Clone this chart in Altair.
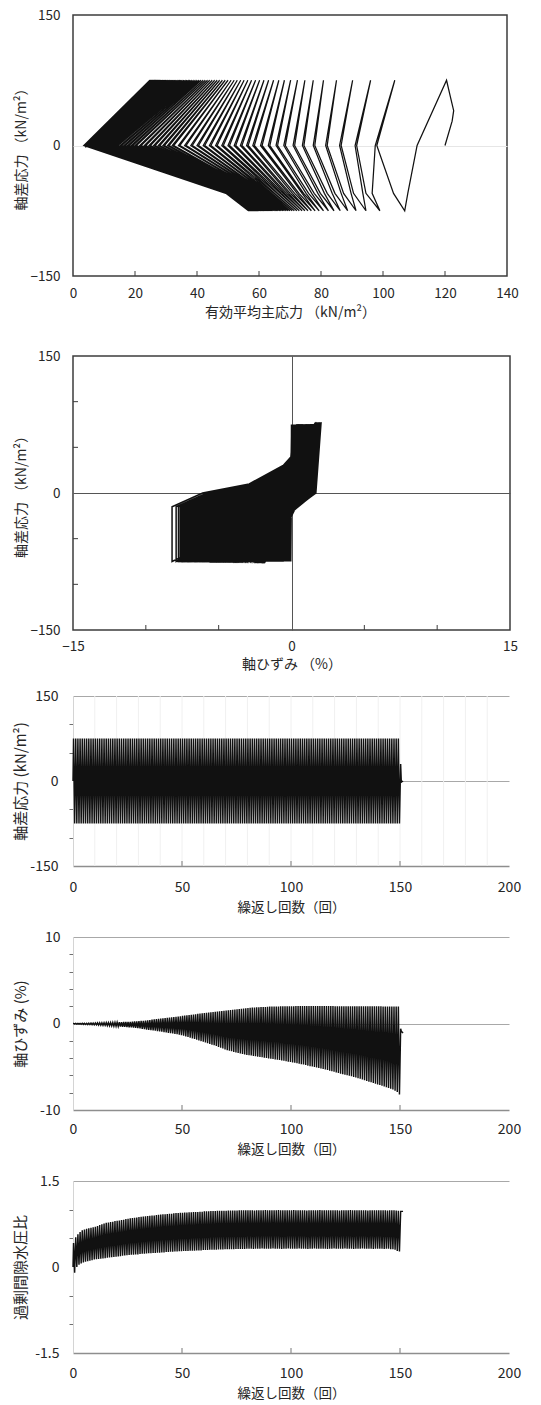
import altair as alt
import pandas as pd

FONT = "Noto Sans CJK JP"
INK = "#111111"
TEXT = "#262626"
FRAME = "#3c3c3c"

# ---------------------------------------------------------------------------
# Cyclic triaxial test record, one entry per loading cycle (cycles 1-150)
# ---------------------------------------------------------------------------
Q_PEAK = 75.0            # deviator stress at the compression peak (kN/m2)
Q_TROUGH = -75.0         # deviator stress at the extension peak (kN/m2)
Q_LOWER = -55.0          # intermediate stress level on the extension side
Q_KNEE = -15.0           # reloading knee on the extension side
Q_RELOAD_LOW = 10.0
Q_RELOAD_HIGH = 30.0

# axial strain (%) at the compression / extension peaks
STRAIN_COMP = [
    0.00, 0.01, 0.01, 0.02, 0.02, 0.03, 0.03, 0.04, 0.05, 0.05,
    0.06, 0.07, 0.08, 0.08, 0.09, 0.10, 0.10, 0.11, 0.12, 0.13,
    0.14, 0.15, 0.16, 0.17, 0.18, 0.19, 0.20, 0.22, 0.24, 0.26,
    0.28, 0.30, 0.32, 0.35, 0.38, 0.41, 0.44, 0.47, 0.50, 0.53,
    0.56, 0.59, 0.62, 0.65, 0.68, 0.71, 0.74, 0.77, 0.80, 0.84,
    0.88, 0.92, 0.96, 0.99, 1.02, 1.05, 1.08, 1.11, 1.14, 1.17,
    1.20, 1.23, 1.26, 1.29, 1.32, 1.35, 1.38, 1.41, 1.44, 1.47,
    1.50, 1.53, 1.56, 1.59, 1.62, 1.65, 1.68, 1.71, 1.74, 1.77,
    1.80, 1.82, 1.84, 1.86, 1.88, 1.89, 1.90, 1.91, 1.92, 1.94,
    1.95, 1.96, 1.96, 1.97, 1.97, 1.98, 1.98, 1.99, 1.99, 2.00,
    2.00, 2.00, 2.01, 2.01, 2.01, 2.01, 2.02, 2.02, 2.02, 2.02,
    2.02, 2.02, 2.02, 2.02, 2.01, 2.01, 2.01, 2.01, 2.01, 2.01,
    2.00, 2.00, 2.00, 2.00, 2.00, 2.00, 2.00, 2.00, 1.99, 1.99,
    1.99, 1.99, 1.99, 1.99, 1.99, 1.98, 1.98, 1.98, 1.98, 1.98,
    1.98, 1.98, 1.97, 1.97, 1.97, 1.97, 1.97, 1.97, 1.97, 1.97,
]
STRAIN_EXT = [
    -0.05, -0.07, -0.08, -0.09, -0.10, -0.11, -0.12, -0.13, -0.14, -0.15,
    -0.16, -0.18, -0.20, -0.21, -0.22, -0.24, -0.26, -0.28, -0.30, -0.32,
    -0.34, -0.36, -0.38, -0.40, -0.42, -0.44, -0.46, -0.49, -0.52, -0.55,
    -0.58, -0.62, -0.66, -0.70, -0.74, -0.77, -0.80, -0.84, -0.88, -0.92,
    -0.96, -1.00, -1.04, -1.08, -1.12, -1.16, -1.20, -1.25, -1.30, -1.36,
    -1.42, -1.49, -1.56, -1.64, -1.72, -1.80, -1.88, -1.96, -2.04, -2.12,
    -2.20, -2.28, -2.36, -2.44, -2.52, -2.61, -2.70, -2.80, -2.90, -3.00,
    -3.08, -3.15, -3.22, -3.29, -3.35, -3.41, -3.47, -3.53, -3.58, -3.63,
    -3.67, -3.71, -3.75, -3.79, -3.83, -3.87, -3.91, -3.95, -3.99, -4.03,
    -4.07, -4.11, -4.15, -4.19, -4.23, -4.27, -4.31, -4.36, -4.41, -4.46,
    -4.50, -4.55, -4.60, -4.65, -4.70, -4.75, -4.81, -4.87, -4.93, -4.98,
    -5.03, -5.08, -5.13, -5.19, -5.25, -5.31, -5.38, -5.45, -5.52, -5.59,
    -5.66, -5.73, -5.80, -5.87, -5.93, -5.99, -6.05, -6.11, -6.18, -6.25,
    -6.32, -6.40, -6.48, -6.56, -6.64, -6.72, -6.80, -6.88, -6.96, -7.04,
    -7.12, -7.20, -7.28, -7.36, -7.45, -7.54, -7.64, -7.76, -7.92, -8.20,
]
# axial strain (%) where the unloading branch crosses q = 0
STRAIN_UNLOAD0 = [
    -0.01, -0.01, 0.00, 0.00, 0.01, 0.01, 0.01, 0.02, 0.03, 0.03,
    0.04, 0.05, 0.05, 0.06, 0.06, 0.07, 0.07, 0.08, 0.09, 0.10,
    0.11, 0.12, 0.13, 0.13, 0.14, 0.15, 0.16, 0.17, 0.19, 0.21,
    0.23, 0.24, 0.26, 0.28, 0.31, 0.33, 0.36, 0.38, 0.41, 0.43,
    0.46, 0.48, 0.51, 0.53, 0.56, 0.58, 0.61, 0.63, 0.66, 0.69,
    0.72, 0.75, 0.79, 0.81, 0.84, 0.86, 0.89, 0.91, 0.94, 0.96,
    0.99, 1.01, 1.04, 1.06, 1.09, 1.11, 1.14, 1.16, 1.19, 1.21,
    1.22, 1.24, 1.27, 1.29, 1.32, 1.34, 1.37, 1.39, 1.42, 1.44,
    1.47, 1.48, 1.50, 1.51, 1.53, 1.54, 1.55, 1.56, 1.57, 1.59,
    1.60, 1.61, 1.61, 1.62, 1.62, 1.63, 1.63, 1.64, 1.64, 1.65,
    1.65, 1.65, 1.66, 1.66, 1.66, 1.66, 1.67, 1.67, 1.67, 1.67,
    1.67, 1.67, 1.67, 1.67, 1.66, 1.66, 1.66, 1.66, 1.66, 1.66,
    1.65, 1.65, 1.65, 1.65, 1.65, 1.65, 1.65, 1.65, 1.64, 1.64,
    1.64, 1.64, 1.64, 1.64, 1.64, 1.63, 1.63, 1.63, 1.63, 1.63,
    1.63, 1.63, 1.62, 1.62, 1.62, 1.62, 1.62, 1.62, 1.62, 1.62,
]
# axial strain (%) on the reloading branch at q = 0, 10 and 30 kN/m2
STRAIN_RELOAD0 = [
    -0.04, -0.06, -0.06, -0.07, -0.08, -0.09, -0.09, -0.10, -0.11, -0.11,
    -0.12, -0.14, -0.15, -0.16, -0.16, -0.17, -0.19, -0.20, -0.22, -0.23,
    -0.24, -0.26, -0.27, -0.28, -0.29, -0.31, -0.32, -0.34, -0.36, -0.38,
    -0.40, -0.42, -0.45, -0.47, -0.49, -0.50, -0.52, -0.54, -0.56, -0.58,
    -0.60, -0.62, -0.64, -0.66, -0.68, -0.70, -0.72, -0.74, -0.76, -0.79,
    -0.82, -0.87, -0.92, -0.97, -1.02, -1.08, -1.14, -1.20, -1.26, -1.32,
    -1.40, -1.46, -1.52, -1.58, -1.64, -1.70, -1.77, -1.84, -1.91, -1.98,
    -2.06, -2.11, -2.16, -2.21, -2.25, -2.29, -2.33, -2.37, -2.40, -2.43,
    -2.46, -2.49, -2.51, -2.54, -2.56, -2.58, -2.60, -2.62, -2.64, -2.66,
    -2.68, -2.70, -2.72, -2.74, -2.76, -2.78, -2.80, -2.82, -2.84, -2.86,
    -2.90, -2.93, -2.96, -2.99, -3.02, -3.06, -3.10, -3.14, -3.18, -3.22,
    -3.27, -3.31, -3.35, -3.40, -3.45, -3.50, -3.55, -3.60, -3.66, -3.72,
    -3.78, -3.84, -3.90, -3.96, -4.01, -4.06, -4.12, -4.17, -4.23, -4.29,
    -4.35, -4.42, -4.49, -4.56, -4.63, -4.70, -4.77, -4.84, -4.91, -4.98,
    -5.06, -5.13, -5.20, -5.28, -5.36, -5.44, -5.53, -5.64, -5.80, -6.10,
]
STRAIN_RELOAD10 = [
    -0.03, -0.05, -0.05, -0.06, -0.07, -0.08, -0.08, -0.09, -0.10, -0.10,
    -0.11, -0.12, -0.13, -0.14, -0.14, -0.15, -0.16, -0.17, -0.18, -0.19,
    -0.20, -0.21, -0.22, -0.23, -0.24, -0.25, -0.26, -0.27, -0.28, -0.29,
    -0.30, -0.31, -0.33, -0.34, -0.35, -0.36, -0.37, -0.38, -0.39, -0.40,
    -0.41, -0.42, -0.43, -0.44, -0.45, -0.46, -0.47, -0.48, -0.49, -0.50,
    -0.52, -0.54, -0.56, -0.58, -0.60, -0.62, -0.65, -0.68, -0.71, -0.74,
    -0.77, -0.80, -0.83, -0.86, -0.89, -0.92, -0.96, -1.00, -1.04, -1.08,
    -1.11, -1.14, -1.16, -1.18, -1.20, -1.22, -1.24, -1.26, -1.27, -1.28,
    -1.29, -1.30, -1.31, -1.32, -1.33, -1.34, -1.35, -1.36, -1.37, -1.38,
    -1.39, -1.40, -1.41, -1.42, -1.43, -1.44, -1.45, -1.46, -1.47, -1.48,
    -1.50, -1.52, -1.54, -1.56, -1.58, -1.60, -1.62, -1.64, -1.66, -1.68,
    -1.70, -1.72, -1.74, -1.76, -1.78, -1.80, -1.82, -1.85, -1.88, -1.91,
    -1.94, -1.97, -2.00, -2.03, -2.05, -2.07, -2.10, -2.12, -2.15, -2.18,
    -2.21, -2.24, -2.27, -2.30, -2.33, -2.36, -2.39, -2.42, -2.45, -2.48,
    -2.51, -2.54, -2.57, -2.60, -2.63, -2.66, -2.70, -2.75, -2.81, -2.90,
]
STRAIN_RELOAD30 = [
    -0.02, -0.03, -0.03, -0.03, -0.04, -0.04, -0.04, -0.05, -0.05, -0.05,
    -0.06, -0.06, -0.06, -0.07, -0.07, -0.07, -0.08, -0.08, -0.08, -0.09,
    -0.09, -0.09, -0.10, -0.10, -0.10, -0.11, -0.11, -0.11, -0.12, -0.12,
    -0.12, -0.13, -0.13, -0.13, -0.14, -0.14, -0.14, -0.15, -0.15, -0.15,
    -0.16, -0.16, -0.16, -0.17, -0.17, -0.17, -0.18, -0.18, -0.18, -0.19,
    -0.19, -0.19, -0.20, -0.20, -0.20, -0.21, -0.21, -0.21, -0.22, -0.22,
    -0.22, -0.23, -0.23, -0.23, -0.24, -0.24, -0.24, -0.25, -0.25, -0.25,
    -0.26, -0.26, -0.26, -0.27, -0.27, -0.27, -0.28, -0.28, -0.28, -0.29,
    -0.29, -0.29, -0.30, -0.30, -0.30, -0.31, -0.31, -0.31, -0.32, -0.32,
    -0.32, -0.33, -0.33, -0.33, -0.34, -0.34, -0.34, -0.35, -0.35, -0.35,
    -0.36, -0.36, -0.36, -0.37, -0.37, -0.37, -0.38, -0.38, -0.38, -0.39,
    -0.39, -0.39, -0.40, -0.40, -0.40, -0.41, -0.41, -0.41, -0.42, -0.42,
    -0.42, -0.43, -0.43, -0.43, -0.44, -0.44, -0.44, -0.45, -0.45, -0.45,
    -0.46, -0.46, -0.46, -0.47, -0.47, -0.47, -0.48, -0.48, -0.48, -0.49,
    -0.49, -0.49, -0.50, -0.50, -0.51, -0.52, -0.53, -0.55, -0.57, -0.60,
]

# excess pore water pressure ratio at the compression / extension peaks
RU_COMP = [
    0.42, 0.52, 0.57, 0.61, 0.64, 0.655, 0.665, 0.675, 0.685, 0.695,
    0.70, 0.715, 0.73, 0.745, 0.76, 0.77, 0.775, 0.785, 0.79, 0.80,
    0.805, 0.81, 0.82, 0.825, 0.835, 0.84, 0.85, 0.855, 0.86, 0.865,
    0.87, 0.875, 0.88, 0.885, 0.89, 0.895, 0.90, 0.90, 0.905, 0.91,
    0.915, 0.92, 0.92, 0.925, 0.93, 0.93, 0.935, 0.94, 0.94, 0.945,
    0.945, 0.95, 0.95, 0.955, 0.955, 0.96, 0.96, 0.96, 0.965, 0.965,
    0.97, 0.97, 0.97, 0.975, 0.975, 0.975, 0.98, 0.98, 0.98, 0.98,
    0.98, 0.985, 0.985, 0.985, 0.985, 0.985, 0.99, 0.99, 0.99, 0.99,
    0.99, 0.99, 0.99, 0.985, 0.99, 0.99, 0.99, 0.99, 0.995, 0.99,
    0.99, 0.99, 0.99, 0.99, 0.995, 0.99, 0.99, 0.99, 0.99, 0.99,
    0.99, 0.995, 0.99, 0.99, 0.99, 0.99, 0.99, 0.985, 0.99, 0.99,
    0.99, 0.99, 0.99, 0.995, 0.99, 0.99, 0.99, 0.99, 0.99, 0.99,
    0.99, 0.99, 0.985, 0.99, 0.99, 0.99, 0.99, 0.995, 0.99, 0.99,
    0.99, 0.99, 0.99, 0.99, 0.99, 0.985, 0.99, 0.99, 0.99, 0.99,
    0.99, 0.99, 0.99, 0.99, 0.985, 0.99, 0.99, 0.99, 0.985, 0.98,
]
RU_EXT = [
    -0.10, 0.00, 0.04, 0.06, 0.08, 0.09, 0.10, 0.11, 0.12, 0.13,
    0.135, 0.14, 0.145, 0.15, 0.155, 0.16, 0.165, 0.17, 0.175, 0.18,
    0.185, 0.19, 0.195, 0.20, 0.205, 0.21, 0.215, 0.215, 0.22, 0.22,
    0.225, 0.23, 0.23, 0.235, 0.24, 0.24, 0.245, 0.245, 0.25, 0.25,
    0.255, 0.255, 0.26, 0.26, 0.265, 0.265, 0.27, 0.27, 0.275, 0.275,
    0.28, 0.28, 0.28, 0.285, 0.285, 0.285, 0.29, 0.29, 0.29, 0.295,
    0.295, 0.295, 0.30, 0.30, 0.30, 0.30, 0.305, 0.305, 0.305, 0.31,
    0.31, 0.31, 0.31, 0.31, 0.315, 0.315, 0.315, 0.315, 0.315, 0.32,
    0.32, 0.32, 0.315, 0.32, 0.32, 0.32, 0.325, 0.32, 0.32, 0.32,
    0.32, 0.325, 0.32, 0.32, 0.32, 0.315, 0.32, 0.32, 0.325, 0.32,
    0.32, 0.32, 0.32, 0.325, 0.32, 0.32, 0.32, 0.315, 0.32, 0.32,
    0.325, 0.32, 0.32, 0.32, 0.32, 0.32, 0.315, 0.32, 0.32, 0.325,
    0.32, 0.32, 0.32, 0.32, 0.325, 0.32, 0.32, 0.32, 0.315, 0.32,
    0.32, 0.32, 0.325, 0.32, 0.32, 0.32, 0.32, 0.315, 0.32, 0.32,
    0.32, 0.32, 0.315, 0.32, 0.32, 0.31, 0.31, 0.30, 0.28, 0.27,
]

# effective mean principal stress p' (kN/m2) along each loop
P_COMP = [
    120.5, 103.8, 96.0, 90.2, 85.0, 80.8, 77.5, 74.8, 72.4, 70.2,
    68.2, 66.4, 64.7, 63.1, 61.6, 60.2, 58.9, 57.6, 56.4, 55.2,
    54.1, 53.0, 52.0, 51.0, 50.0, 49.1, 48.2, 47.3, 46.5, 45.7,
    44.9, 44.1, 43.4, 42.7, 42.0, 41.3, 40.7, 40.1, 39.5, 38.9,
    38.3, 37.8, 37.3, 36.8, 36.3, 35.8, 35.3, 34.9, 34.5, 34.1,
    33.7, 33.3, 32.9, 32.5, 32.2, 31.9, 31.6, 31.3, 31.0, 30.7,
    30.4, 30.1, 29.9, 29.7, 29.5, 29.3, 29.1, 28.9, 28.7, 28.5,
    28.3, 28.2, 28.1, 28.0, 27.9, 27.8, 27.7, 27.6, 27.5, 27.4,
    27.3, 27.2, 27.1, 27.0, 26.9, 26.9, 26.8, 26.8, 26.7, 26.7,
    26.6, 26.6, 26.5, 26.5, 26.4, 26.4, 26.3, 26.3, 26.2, 26.2,
    26.1, 26.1, 26.0, 26.0, 26.0, 25.9, 25.9, 25.9, 25.8, 25.8,
    25.8, 25.7, 25.7, 25.7, 25.6, 25.6, 25.6, 25.5, 25.5, 25.5,
    25.4, 25.4, 25.4, 25.4, 25.3, 25.3, 25.3, 25.3, 25.2, 25.2,
    25.2, 25.2, 25.1, 25.1, 25.1, 25.1, 25.0, 25.0, 25.0, 25.0,
    25.0, 24.9, 24.9, 24.9, 24.9, 24.9, 24.8, 24.8, 24.8, 24.8,
]
P_UNLOAD0 = [
    111.0, 97.5, 91.0, 86.0, 81.5, 77.5, 74.0, 71.0, 68.0, 65.5,
    63.0, 60.5, 58.0, 56.0, 54.0, 52.0, 50.0, 48.0, 46.0, 44.0,
    42.0, 40.0, 38.0, 36.0, 34.0, 32.0, 30.5, 29.0, 27.5, 26.0,
    24.5, 23.0, 21.5, 20.0, 18.8, 17.6, 16.4, 15.2, 14.0, 13.0,
    12.0, 11.0, 10.2, 9.5, 8.8, 8.2, 7.7, 7.2, 6.8, 6.4,
    6.1, 5.8, 5.6, 5.4, 5.2, 5.0, 4.9, 4.8, 4.7, 4.6,
    4.5, 4.5, 4.4, 4.4, 4.3, 4.3, 4.2, 4.2, 4.1, 4.1,
    4.1, 4.0, 4.0, 4.0, 4.0, 4.0, 3.9, 3.9, 3.9, 3.9,
    3.9, 3.9, 3.9, 3.9, 3.8, 3.8, 3.8, 3.8, 3.8, 3.8,
    3.8, 3.8, 3.8, 3.8, 3.8, 3.7, 3.7, 3.7, 3.7, 3.7,
    3.7, 3.7, 3.7, 3.7, 3.7, 3.7, 3.7, 3.7, 3.6, 3.6,
    3.6, 3.6, 3.6, 3.6, 3.6, 3.6, 3.6, 3.6, 3.6, 3.6,
    3.6, 3.6, 3.6, 3.5, 3.5, 3.5, 3.5, 3.5, 3.5, 3.5,
    3.5, 3.5, 3.5, 3.5, 3.5, 3.5, 3.5, 3.5, 3.5, 3.5,
    3.5, 3.5, 3.5, 3.5, 3.5, 3.5, 3.5, 3.5, 3.5, 3.5,
]
P_UNLOAD55 = [
    108.0, 96.5, 93.5, 89.7, 86.5, 83.6, 81.1, 79.0, 77.0, 75.2,
    73.9, 72.3, 70.8, 69.5, 68.3, 67.2, 66.1, 65.1, 64.1, 63.2,
    62.6, 62.0, 61.4, 60.8, 60.2, 59.6, 59.0, 58.5, 58.0, 57.5,
    57.0, 56.5, 56.0, 55.6, 55.2, 54.8, 54.4, 54.0, 53.6, 53.2,
    52.8, 52.5, 52.2, 51.9, 51.6, 51.3, 51.0, 50.8, 50.6, 50.4,
    50.2, 50.1, 50.0, 49.9, 49.8, 49.8, 49.7, 49.7, 49.6, 49.6,
    49.6, 49.6, 49.6, 49.6, 49.5, 49.5, 49.5, 49.5, 49.5, 49.5,
    49.5, 49.5, 49.5, 49.5, 49.5, 49.5, 49.5, 49.5, 49.5, 49.5,
    49.5, 49.5, 49.5, 49.4, 49.4, 49.4, 49.4, 49.4, 49.4, 49.4,
    49.4, 49.4, 49.4, 49.4, 49.4, 49.4, 49.4, 49.4, 49.4, 49.4,
    49.4, 49.4, 49.4, 49.4, 49.4, 49.3, 49.3, 49.3, 49.3, 49.3,
    49.3, 49.3, 49.3, 49.3, 49.3, 49.3, 49.3, 49.3, 49.3, 49.3,
    49.3, 49.3, 49.3, 49.3, 49.3, 49.3, 49.3, 49.3, 49.3, 49.3,
    49.3, 49.3, 49.3, 49.3, 49.3, 49.3, 49.3, 49.3, 49.3, 49.3,
    49.3, 49.3, 49.3, 49.3, 49.3, 49.3, 49.3, 49.3, 49.3, 49.3,
]
P_EXT = [
    107.0, 99.0, 94.5, 91.3, 88.6, 86.2, 84.2, 82.4, 80.8, 79.4,
    78.1, 76.9, 75.8, 74.8, 73.9, 73.0, 72.2, 71.4, 70.7, 70.0,
    69.4, 68.8, 68.2, 67.7, 67.2, 66.7, 66.2, 65.8, 65.4, 65.0,
    64.6, 64.2, 63.9, 63.6, 63.3, 63.0, 62.7, 62.4, 62.1, 61.9,
    61.7, 61.5, 61.3, 61.1, 60.9, 60.7, 60.5, 60.3, 60.1, 59.9,
    59.8, 59.7, 59.6, 59.5, 59.4, 59.3, 59.2, 59.1, 59.0, 58.9,
    58.8, 58.7, 58.6, 58.5, 58.4, 58.3, 58.2, 58.1, 58.0, 57.9,
    57.9, 57.8, 57.8, 57.8, 57.7, 57.7, 57.7, 57.6, 57.6, 57.6,
    57.5, 57.5, 57.5, 57.5, 57.4, 57.4, 57.4, 57.4, 57.3, 57.3,
    57.3, 57.3, 57.3, 57.2, 57.2, 57.2, 57.2, 57.2, 57.1, 57.1,
    57.1, 57.1, 57.1, 57.1, 57.0, 57.0, 57.0, 57.0, 57.0, 57.0,
    57.0, 57.0, 56.9, 56.9, 56.9, 56.9, 56.9, 56.9, 56.9, 56.9,
    56.9, 56.8, 56.8, 56.8, 56.8, 56.8, 56.8, 56.8, 56.8, 56.8,
    56.8, 56.8, 56.7, 56.7, 56.7, 56.7, 56.7, 56.7, 56.7, 56.7,
    56.7, 56.7, 56.7, 56.7, 56.6, 56.6, 56.6, 56.6, 56.6, 56.6,
]
P_RELOAD55 = [
    103.4, 94.5, 90.5, 87.3, 84.5, 82.0, 79.8, 77.8, 76.0, 74.4,
    72.9, 71.5, 70.1, 68.9, 67.8, 66.8, 65.8, 64.8, 63.8, 62.9,
    62.3, 61.7, 61.1, 60.5, 59.9, 59.3, 58.8, 58.3, 57.8, 57.3,
    56.8, 56.3, 55.8, 55.4, 55.0, 54.6, 54.2, 53.8, 53.4, 53.0,
    52.7, 52.4, 52.1, 51.8, 51.5, 51.2, 50.9, 50.7, 50.5, 50.3,
    50.2, 50.1, 50.0, 49.9, 49.8, 49.8, 49.7, 49.7, 49.6, 49.6,
    49.6, 49.6, 49.6, 49.6, 49.5, 49.5, 49.5, 49.5, 49.5, 49.5,
    49.5, 49.5, 49.5, 49.5, 49.5, 49.5, 49.5, 49.5, 49.5, 49.5,
    49.5, 49.5, 49.5, 49.4, 49.4, 49.4, 49.4, 49.4, 49.4, 49.4,
    49.4, 49.4, 49.4, 49.4, 49.4, 49.4, 49.4, 49.4, 49.4, 49.4,
    49.4, 49.4, 49.4, 49.4, 49.4, 49.3, 49.3, 49.3, 49.3, 49.3,
    49.3, 49.3, 49.3, 49.3, 49.3, 49.3, 49.3, 49.3, 49.3, 49.3,
    49.3, 49.3, 49.3, 49.3, 49.3, 49.3, 49.3, 49.3, 49.3, 49.3,
    49.3, 49.3, 49.3, 49.3, 49.3, 49.3, 49.3, 49.3, 49.3, 49.3,
    49.3, 49.3, 49.3, 49.3, 49.3, 49.3, 49.3, 49.3, 49.3, 49.3,
]
P_RELOAD0 = [
    98.0, 91.5, 86.5, 82.0, 78.0, 74.5, 71.5, 68.5, 66.0, 63.5,
    61.0, 58.5, 56.5, 54.5, 52.5, 50.5, 48.5, 46.5, 44.5, 42.5,
    40.5, 38.5, 36.5, 34.5, 32.5, 31.0, 29.5, 28.0, 26.5, 25.0,
    23.5, 22.0, 20.5, 19.3, 18.1, 16.9, 15.7, 14.5, 13.4, 12.4,
    11.4, 10.6, 9.8, 9.1, 8.5, 8.0, 7.5, 7.0, 6.6, 6.3,
    6.0, 5.7, 5.5, 5.3, 5.1, 5.0, 4.9, 4.8, 4.7, 4.6,
    4.5, 4.5, 4.4, 4.4, 4.3, 4.3, 4.2, 4.2, 4.1, 4.1,
    4.1, 4.0, 4.0, 4.0, 4.0, 4.0, 3.9, 3.9, 3.9, 3.9,
    3.9, 3.9, 3.9, 3.9, 3.8, 3.8, 3.8, 3.8, 3.8, 3.8,
    3.8, 3.8, 3.8, 3.8, 3.8, 3.7, 3.7, 3.7, 3.7, 3.7,
    3.7, 3.7, 3.7, 3.7, 3.7, 3.7, 3.7, 3.7, 3.6, 3.6,
    3.6, 3.6, 3.6, 3.6, 3.6, 3.6, 3.6, 3.6, 3.6, 3.6,
    3.6, 3.6, 3.6, 3.5, 3.5, 3.5, 3.5, 3.5, 3.5, 3.5,
    3.5, 3.5, 3.5, 3.5, 3.5, 3.5, 3.5, 3.5, 3.5, 3.5,
    3.5, 3.5, 3.5, 3.5, 3.5, 3.5, 3.5, 3.5, 3.5, 3.5,
]

# first loading from the consolidated state
START_P = [120.0, 122.3, 122.8, 121.8]
START_Q = [0.0, 28.0, 40.0, 55.0]

# response after the last extension peak
TAIL_N = [150.3, 150.6, 151.4]
TAIL_Q = [30.0, -2.0, 0.0]
TAIL_STRAIN = [-0.60, -0.90, -1.10]
TAIL_RU = [0.97, 0.97, 0.97]
TAIL_P = [13.5, 4.0, 4.2]

N = len(STRAIN_COMP)
for arr in (STRAIN_EXT, STRAIN_UNLOAD0, STRAIN_RELOAD0, STRAIN_RELOAD10, STRAIN_RELOAD30,
            RU_COMP, RU_EXT, P_COMP, P_UNLOAD0, P_UNLOAD55, P_EXT, P_RELOAD55, P_RELOAD0):
    assert len(arr) == N, len(arr)

# axis ticks and labels
P_LABELS = [0, 20, 40, 60, 80, 100, 120, 140]
P_TICKS = [20, 40, 60, 80, 100, 120]
Q_MAJOR = [150, 0, -150]
Q_MINOR = [100, 50, -50, -100]
STRAIN_MAJOR = [-15, 0, 15]
STRAIN_MINOR = [-10, -5, 5, 10]
N_LABELS = [0, 50, 100, 150, 200]
N_TICKS = [50, 100, 150]
N_GRID = [10, 20, 30, 40, 50, 60, 70, 80, 90, 100, 110, 120, 130, 140, 150, 160, 170, 180, 190]
EPS_MAJOR = [10, 0, -10]
EPS_MINOR = [8, 6, 4, 2, -2, -4, -6, -8]
RU_MAJOR = [1.5, 0, -1.5]
RU_MINOR = [1.0, 0.5, -0.5, -1.0]

PLOT_LEFT = 72          # common left edge of the plot areas
TITLE_CENTER = 20       # x of the rotated y titles


def path_frame(points):
    return pd.DataFrame([{"seq": i, "x": x, "y": y} for i, (x, y) in enumerate(points)])


# stress path p'-q
pts = list(zip(START_P, START_Q))
for k in range(N):
    pts += [(P_COMP[k], Q_PEAK), (P_UNLOAD0[k], 0.0), (P_UNLOAD55[k], Q_LOWER),
            (P_EXT[k], Q_TROUGH), (P_RELOAD55[k], Q_LOWER), (P_RELOAD0[k], 0.0)]
pts += list(zip(TAIL_P, TAIL_Q))
df_path = path_frame(pts)

# stress-strain loops
pts = [(0.0, 0.0)]
for k in range(N):
    pts += [(STRAIN_COMP[k], Q_PEAK), (STRAIN_UNLOAD0[k], 0.0), (STRAIN_EXT[k], Q_TROUGH),
            (STRAIN_EXT[k], Q_KNEE), (STRAIN_RELOAD0[k], 0.0),
            (STRAIN_RELOAD10[k], Q_RELOAD_LOW), (STRAIN_RELOAD30[k], Q_RELOAD_HIGH)]
pts += list(zip(TAIL_STRAIN, TAIL_Q))
df_loops = path_frame(pts)


def history(comp, ext, tail):
    pts = [(0.0, 0.0)]
    for k in range(N):
        pts += [(k + 0.25, comp[k]), (k + 0.75, ext[k])]
    pts += list(zip(TAIL_N, tail))
    return path_frame(pts)


df_q = history([Q_PEAK] * N, [Q_TROUGH] * N, TAIL_Q)
df_eps = history(STRAIN_COMP, STRAIN_EXT, TAIL_STRAIN)
df_ru = history(RU_COMP, RU_EXT, TAIL_RU)


def is_one_of(values):
    return " || ".join(f"datum.value == {v}" for v in values)


def only_at(values, color):
    return {"condition": {"test": is_one_of(values), "value": color}, "value": "transparent"}


def except_at(values, color):
    return {"condition": {"test": is_one_of(values), "value": "transparent"}, "value": color}


def title_x(font_size):
    return TITLE_CENTER + font_size / 2 - PLOT_LEFT


# ---------------- panel 1: effective stress path ----------------
W1, H1 = 434, 261
sx1 = alt.Scale(domain=[0, 140], nice=False, zero=False)
sy1 = alt.Scale(domain=[-150, 150], nice=False, zero=False)
path_line = alt.Chart(df_path).mark_line(color=INK, strokeWidth=1.25).encode(
    x=alt.X("x:Q", scale=sx1, axis=alt.Axis(
        values=P_LABELS, ticks=False, domain=False, grid=False, labelFlush=False,
        labelPadding=10, labelFontSize=13.5, title="有効平均主応力 （kN/m²）",
        titleFontSize=14, titlePadding=6)),
    y=alt.Y("y:Q", scale=sy1, axis=alt.Axis(
        values=Q_MAJOR, ticks=False, domain=False, grid=True,
        gridColor=only_at([0], "#e6e6e6"),
        labelExpr="replace(toString(datum.value), '-', '−')",
        labelPadding=13, labelFontSize=13.5, title="軸差応力 （kN/m²）",
        titleFontSize=14, titleX=title_x(14))),
    order="seq:Q",
)
path_ticks = alt.Chart(pd.DataFrame({"x": P_TICKS})).mark_rule(color=FRAME, strokeWidth=1).encode(
    x=alt.X("x:Q", scale=sx1), y=alt.value(H1), y2=alt.value(H1 - 5))
panel1 = alt.layer(path_line, path_ticks).properties(
    width=W1, height=H1, view=alt.ViewBackground(stroke=FRAME, strokeWidth=1.5))

# ---------------- panel 2: stress-strain loops ----------------
W2, H2 = 437, 274
sx2 = alt.Scale(domain=[-15, 15], nice=False, zero=False)
sy2 = alt.Scale(domain=[-150, 150], nice=False, zero=False)
loop_line = alt.Chart(df_loops).mark_line(color=INK, strokeWidth=1.5).encode(
    x=alt.X("x:Q", scale=sx2, axis=alt.Axis(
        values=STRAIN_MAJOR, ticks=False, domain=False, grid=True,
        gridColor=only_at([0], "#555555"), labelFlush=False,
        labelExpr="replace(toString(datum.value), '-', '−')",
        labelPadding=9, labelFontSize=13.5, title="軸ひずみ （%）",
        titleFontSize=14, titlePadding=5)),
    y=alt.Y("y:Q", scale=sy2, axis=alt.Axis(
        values=Q_MAJOR, ticks=False, domain=False, grid=True,
        gridColor=only_at([0], "#555555"),
        labelExpr="replace(toString(datum.value), '-', '−')",
        labelPadding=13, labelFontSize=13.5, title="軸差応力 （kN/m²）",
        titleFontSize=14, titleX=title_x(14))),
    order="seq:Q",
)
loop_xticks = alt.Chart(pd.DataFrame({"x": STRAIN_MINOR})).mark_rule(color=FRAME, strokeWidth=1).encode(
    x=alt.X("x:Q", scale=sx2), y=alt.value(H2), y2=alt.value(H2 - 5))
loop_yticks = alt.Chart(pd.DataFrame({"y": Q_MINOR})).mark_rule(color=FRAME, strokeWidth=1).encode(
    y=alt.Y("y:Q", scale=sy2), x=alt.value(0), x2=alt.value(5))
panel2 = alt.layer(loop_line, loop_xticks, loop_yticks).properties(
    width=W2, height=H2, view=alt.ViewBackground(stroke=FRAME, strokeWidth=1.5))


# ---------------- panels 3-5: histories against number of cycles ----------------
W3 = 436
sxn = alt.Scale(domain=[0, 200], nice=False, zero=False)


def history_panel(df, domain, major, minor, grid_at, title, height, pads, vgrid=False):
    sy = alt.Scale(domain=domain, nice=False, zero=False)
    line = alt.Chart(df).mark_line(color=INK, strokeWidth=1.45).encode(
        x=alt.X("x:Q", scale=sxn, axis=alt.Axis(
            values=N_LABELS, ticks=False, domain=True, domainColor="#8e8e8e", domainWidth=1.5,
            grid=False, labelFlush=False, labelPadding=pads[0], labelFontSize=14,
            title="繰返し回数（回）", titleFontSize=13.5, titlePadding=pads[1])),
        y=alt.Y("y:Q", scale=sy, axis=alt.Axis(
            values=major + minor, tickSize=4, tickWidth=1, tickColor=except_at(major, "#707070"),
            labelExpr=f"({is_one_of(major)}) ? toString(datum.value) : ''",
            grid=True, gridColor=only_at(grid_at, "#a8a8a8"), gridWidth=1,
            domain=True, domainColor="#d4d4d4", labelPadding=pads[2], labelFontSize=14,
            title=title, titleFontSize=15, titleX=title_x(15))),
        order="seq:Q",
    )
    ticks = alt.Chart(pd.DataFrame({"x": N_TICKS})).mark_rule(color="#8e8e8e", strokeWidth=1.2).encode(
        x=alt.X("x:Q", scale=sxn), y=alt.value(height), y2=alt.value(height - 5))
    layers = [line, ticks]
    if vgrid:
        grid = alt.Chart(pd.DataFrame({"x": N_GRID})).mark_rule(color="#f0f0f0", strokeWidth=1).encode(
            x=alt.X("x:Q", scale=sxn), y=alt.value(0), y2=alt.value(height))
        layers = [grid] + layers
    return alt.layer(*layers).properties(
        width=W3, height=height, view=alt.ViewBackground(stroke="transparent"))


panel3 = history_panel(df_q, [-150, 150], Q_MAJOR, Q_MINOR, [150, 0], "軸差応力 (kN/m²)", 170,
                       (14, 6, 11), vgrid=True)
panel4 = history_panel(df_eps, [-10, 10], EPS_MAJOR, EPS_MINOR, [10, 0], "軸ひずみ (%)", 173,
                       (12, 6, 9))
panel5 = history_panel(df_ru, [-1.5, 1.5], RU_MAJOR, RU_MINOR, [1.5], "過剰間隙水圧比", 172,
                       (13, 6, 10))

chart = alt.vconcat(
    panel1,
    alt.vconcat(
        panel2,
        alt.vconcat(panel3, alt.vconcat(panel4, panel5, spacing=17), spacing=15),
        spacing=15),
    spacing=27,
).properties(
    padding={"left": 13, "top": 7, "right": 4, "bottom": 4},
    background="white",
).configure_axis(
    labelFont=FONT, titleFont=FONT, labelColor=TEXT, titleColor=TEXT,
    titleFontWeight="normal",
)

chart.save("out.html", embed_options={"renderer": "svg", "actions": False})
